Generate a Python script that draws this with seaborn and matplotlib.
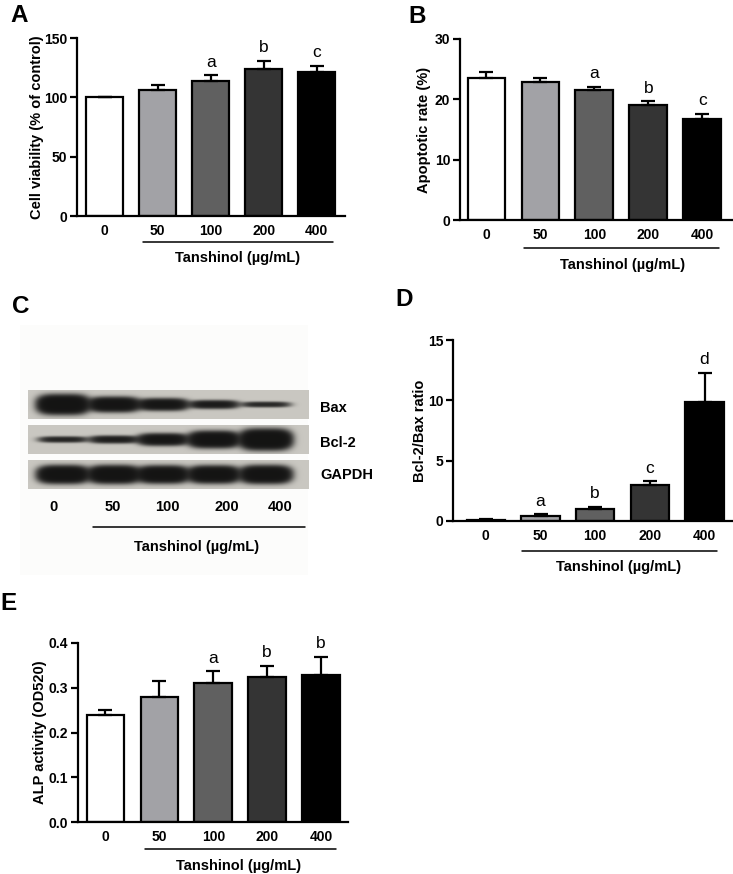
import numpy as np
import pandas as pd
import matplotlib
matplotlib.use('Agg')
import matplotlib.pyplot as plt
import seaborn as sns
from matplotlib.lines import Line2D
from matplotlib.patches import Rectangle

# ---------------- data ----------------
doses = ['0', '50', '100', '200', '400']
bar_colors = ['#ffffff', '#a2a2a6', '#606060', '#343434', '#000000']

viability = [100.0, 106.4, 113.8, 124.1, 121.3]
viability_err = [0.0, 4.0, 4.8, 6.5, 5.1]
viability_sig = ['', '', 'a', 'b', 'c']

apoptosis = [23.5, 22.9, 21.5, 19.1, 16.7]
apoptosis_err = [1.1, 0.7, 0.6, 0.6, 0.9]
apoptosis_sig = ['', '', 'a', 'b', 'c']

ratio = [0.10, 0.42, 0.99, 2.95, 9.85]
ratio_err = [0.05, 0.15, 0.17, 0.36, 2.45]
ratio_sig = ['', 'a', 'b', 'c', 'd']

alp = [0.240, 0.279, 0.310, 0.324, 0.328]
alp_err = [0.011, 0.037, 0.027, 0.025, 0.041]
alp_sig = ['', '', 'a', 'b', 'b']

blot_proteins = ['Bax', 'Bcl-2', 'GAPDH']
bax_band = [7.4, 5.8, 4.8, 3.5, 2.4]
bcl2_band = [2.6, 3.2, 4.8, 6.4, 7.8]
gapdh_band = [6.8, 6.8, 6.6, 6.6, 6.8]

xlabel_text = 'Tanshinol (µg/mL)'

# ---------------- style ----------------
sns.set_theme(style='ticks')
plt.rcParams['font.family'] = ['Liberation Sans', 'DejaVu Sans']
plt.rcParams['font.weight'] = 'bold'
plt.rcParams['axes.labelweight'] = 'bold'
plt.rcParams['text.color'] = 'black'
plt.rcParams['axes.labelcolor'] = 'black'
plt.rcParams['xtick.color'] = 'black'
plt.rcParams['ytick.color'] = 'black'
plt.rcParams['axes.edgecolor'] = 'black'

W, H = 733, 874
fig = plt.figure(figsize=(W / 100, H / 100), dpi=100)
fig.patch.set_facecolor('white')


def ax_px(l, t, r, b):
    return fig.add_axes([l / W, 1 - b / H, (r - l) / W, (b - t) / H])


def fx(x):
    return x / W


def fy(y):
    return 1 - y / H


LW = 1.6


def bar_panel(rect, vals, errs, sig, ylim, yticks, fmt, ylabel, xlim,
              ylabel_x, line_px, label_px):
    ax = ax_px(*rect)
    df = pd.DataFrame({'dose': doses, 'value': vals})
    sns.barplot(data=df, x='dose', y='value', hue='dose', order=doses,
                hue_order=doses, palette=bar_colors, saturation=1,
                legend=False, edgecolor='black', linewidth=LW, width=0.7,
                errorbar=None, ax=ax)
    ax.errorbar(np.arange(len(doses)), vals,
                yerr=[np.zeros(len(doses)), errs], fmt='none',
                ecolor='black', elinewidth=LW, capsize=5, capthick=LW,
                zorder=3)
    for i, (v, e, s) in enumerate(zip(vals, errs, sig)):
        if s:
            ax.annotate(s, (i, v + e), xytext=(0, 4), textcoords='offset points',
                        ha='center', va='bottom', fontsize=12.5,
                        fontweight='normal', color='black')
    ax.set_ylim(*ylim)
    ax.set_xlim(*xlim)
    ax.set_yticks(yticks)
    ax.set_yticklabels([fmt.format(t) for t in yticks])
    ax.set_xlabel('')
    ax.set_ylabel(ylabel, fontsize=10.5, fontweight='bold', va='center',
                  color='black')
    l, t, r, b = rect
    ax.yaxis.set_label_coords((ylabel_x - l) / (r - l), 0.5)
    sns.despine(ax=ax)
    for sp in ['left', 'bottom']:
        ax.spines[sp].set_linewidth(LW)
        ax.spines[sp].set_color('black')
    ax.tick_params(axis='y', length=5, width=LW, pad=2, labelsize=10,
                   colors='black')
    ax.tick_params(axis='x', length=0, pad=6, labelsize=10, colors='black')
    ax.set_facecolor('white')
    x1, x2, yl = line_px
    fig.add_artist(Line2D([fx(x1), fx(x2)], [fy(yl), fy(yl)], color='black',
                          lw=1.1))
    fig.text(fx(label_px[0]), fy(label_px[1]), xlabel_text, ha='center',
             va='center', fontsize=10.5, fontweight='bold', color='black')
    return ax


# Panel A
bar_panel((77, 38, 345, 216), viability, viability_err, viability_sig,
          (0, 150), [0, 50, 100, 150], '{:g}', 'Cell viability (% of control)',
          (-0.52, 4.53), 37, (143, 333, 242), (238, 258))

# Panel B
bar_panel((460, 39, 732, 220), apoptosis, apoptosis_err, apoptosis_sig,
          (0, 30), [0, 10, 20, 30], '{:g}', 'Apoptotic rate (%)',
          (-0.49, 4.55), 424, (524, 719, 248), (623, 265))

# Panel D
bar_panel((453, 340, 733, 521), ratio, ratio_err, ratio_sig,
          (0, 15), [0, 5, 10, 15], '{:g}', 'Bcl-2/Bax ratio',
          (-0.6, 4.52), 420, (522, 717, 551), (619, 567))

# Panel E
bar_panel((78, 643, 348, 822), alp, alp_err, alp_sig,
          (0, 0.4), [0.0, 0.1, 0.2, 0.3, 0.4], '{:.1f}', 'ALP activity (OD520)',
          (-0.51, 4.5), 40, (145, 336, 849), (239, 866))

# Panel C: western blot
axc = ax_px(0, 280, 370, 600)
axc.set_xlim(0, 370)
axc.set_ylim(600, 280)
axc.axis('off')
axc.add_patch(Rectangle((20, 325), 288, 250, facecolor='#fcfcfb',
                        edgecolor='none', zorder=0))

lane_x = [63, 114, 163, 214, 266]
strip_tops = [390, 425, 460]
strip_h = 28.5
sx0, sx1 = 28, 309
bg = 0.79
for top, bands in zip(strip_tops, [bax_band, bcl2_band, gapdh_band]):
    res = 3
    xs = np.linspace(sx0, sx1, int((sx1 - sx0) * res))
    ys = np.linspace(top, top + strip_h, int(strip_h * res))
    X, Y = np.meshgrid(xs, ys)
    yc = top + strip_h / 2
    D = np.zeros_like(X)
    for cx, t in zip(lane_x, bands):
        amp = np.clip(t / 2.6, 0.5, 3.5)
        D += amp * np.exp(-np.abs((X - cx) / 22.5) ** 4) * \
            np.exp(-np.abs((Y - yc) / t) ** 2.4)
    v = bg * (1 - 0.9 * (1 - np.exp(-2.4 * D)))
    img = np.dstack([v, v * 0.99, v * 0.96])
    axc.imshow(img, extent=(sx0, sx1, top + strip_h, top), aspect='auto',
               interpolation='bilinear', zorder=1)

for name, y in zip(blot_proteins, [408, 443, 475]):
    axc.text(320, y, name, ha='left', va='center', fontsize=10.5,
             fontweight='bold', color='black')
for lab, x in zip(doses, [53, 113, 167, 227, 280]):
    axc.text(x, 507, lab, ha='center', va='center', fontsize=10.5,
             fontweight='bold', color='black')
axc.plot([93, 305], [527, 527], color='black', lw=1.1)
axc.text(197, 547, xlabel_text, ha='center', va='center', fontsize=10.5,
         fontweight='bold', color='black')
axc.set_xlim(0, 370)
axc.set_ylim(600, 280)

# panel letters
for letter, x, yb in [('A', 10, 22), ('B', 408, 23), ('C', 12, 313),
                      ('D', 395, 306), ('E', 0, 610)]:
    fig.text(fx(x), fy(yb), letter, ha='left', va='baseline', fontsize=17.5,
             fontweight='bold', color='black')

fig.savefig('out.png', dpi=100, facecolor='white')
